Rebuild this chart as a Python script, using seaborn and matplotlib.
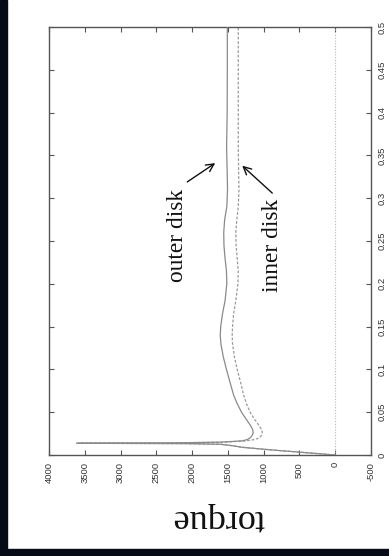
import matplotlib
matplotlib.use("Agg")
import matplotlib.pyplot as plt
from matplotlib.patches import Rectangle
import seaborn as sns
import pandas as pd

# time [s] and torque for the two disks
time = [0, 0.003, 0.006, 0.009, 0.011, 0.0125, 0.0133, 0.0137, 0.0141, 0.015,
        0.0165, 0.018, 0.02, 0.023, 0.026, 0.03, 0.035, 0.042, 0.05, 0.06,
        0.07, 0.084, 0.1, 0.115, 0.13, 0.14, 0.15, 0.165, 0.18, 0.2,
        0.215, 0.23, 0.245, 0.26, 0.275, 0.29, 0.31, 0.33, 0.36, 0.4,
        0.45, 0.5]
outer_torque = [0, 450, 900, 1300, 1450, 1600, 2100, 3590, 2300, 1600,
                1300, 1230, 1190, 1160, 1146, 1155, 1188, 1245, 1310, 1370,
                1420, 1467, 1520, 1565, 1598, 1607, 1600, 1575, 1540, 1515,
                1520, 1540, 1555, 1558, 1545, 1515, 1505, 1510, 1518, 1510,
                1508, 1508]
inner_torque = [0, 450, 900, 1300, 1450, 1600, 2100, 3630, 2300, 1550,
                1250, 1130, 1060, 1030, 1020, 1030, 1070, 1130, 1190, 1240,
                1280, 1320, 1370, 1410, 1435, 1440, 1435, 1420, 1390, 1360,
                1355, 1370, 1385, 1390, 1375, 1355, 1345, 1350, 1355, 1355,
                1355, 1355]

torque_ticks = [4000, 3500, 3000, 2500, 2000, 1500, 1000, 500, 0, -500]
torque_labels = ["4000", "3500", "3000", "2500", "2000", "1500", "1000", "500", "0", "-500"]
time_ticks = [0, 0.05, 0.1, 0.15, 0.2, 0.25, 0.3, 0.35, 0.4, 0.45, 0.5]
time_labels = ["0", "0.05", "0.1", "0.15", "0.2", "0.25", "0.3", "0.35", "0.4", "0.45", "0.5"]

df = pd.DataFrame({"time": time, "outer": outer_torque, "inner": inner_torque})

sns.set_theme(style="white")
plt.rcParams["font.family"] = ["Liberation Sans", "DejaVu Sans"]

W, H = 389, 556
fig = plt.figure(figsize=(W / 100, H / 100), dpi=100)
fig.patch.set_facecolor("white")
ax = fig.add_axes([49 / W, 1 - 455 / H, (371 - 49) / W, (455 - 27) / H])
ax.set_facecolor("white")

# zero-torque reference line
ax.axvline(0, color="#b8b8b8", lw=0.8, ls=(0, (1, 1.5)), zorder=1)

sns.lineplot(data=df, x="outer", y="time", sort=False, estimator=None,
             color="#8a8a8a", lw=0.9, ax=ax, zorder=3)
sns.lineplot(data=df, x="inner", y="time", sort=False, estimator=None,
             color="#9a9a9a", lw=0.9, ax=ax, zorder=2, linestyle=(0, (2.2, 1.4)))

ax.set_xlim(4000, -500)
ax.set_ylim(0, 0.5)

ax.set_xticks(torque_ticks)
ax.set_xticklabels(torque_labels, rotation=90, va="top", ha="center")
ax.set_yticks(time_ticks)
ax.set_yticklabels(time_labels, rotation=90, va="center", ha="left")
ax.yaxis.tick_right()
ax.tick_params(axis="both", which="both", direction="in", length=3.5, width=0.8,
               color="#555555", labelsize=6.8, labelcolor="#333333",
               top=True, bottom=True, left=True, right=True,
               labelleft=False, labelright=True, labeltop=False, labelbottom=True)
ax.tick_params(axis="x", pad=5)
ax.tick_params(axis="y", pad=5)

for s in ax.spines.values():
    s.set_color("#555555")
    s.set_linewidth(1.0)
    s.set_visible(True)

ax.set_xlabel("")
ax.set_ylabel("")

serif = ["Liberation Serif", "DejaVu Serif"]
fig.text(218 / W, 1 - 519 / H, "torque", rotation=180, ha="center", va="center",
         fontsize=26, family=serif, color="#111111")

# curve labels with arrows
ax.text(2208, 0.256, "outer disk", rotation=90, ha="center", va="center",
        fontsize=16.8, family=serif, color="#111111")
ax.text(880, 0.245, "inner disk", rotation=90, ha="center", va="center",
        fontsize=16.8, family=serif, color="#111111")
ax.annotate("", xy=(1677, 0.341), xytext=(2068, 0.319),
            arrowprops=dict(arrowstyle="->", color="#111111", lw=1.0,
                            mutation_scale=14, shrinkA=0, shrinkB=0))
ax.annotate("", xy=(1300, 0.338), xytext=(880, 0.306),
            arrowprops=dict(arrowstyle="->", color="#111111", lw=1.0,
                            mutation_scale=14, shrinkA=0, shrinkB=0))

# dark frame strips along the left and bottom edges
fig.add_artist(Rectangle((0, 0), 7 / W, 1, transform=fig.transFigure,
                         color="#070b18", zorder=10))
fig.add_artist(Rectangle((0, 0), 1, 7 / H, transform=fig.transFigure,
                         color="#070b18", zorder=10))

fig.savefig("out.png", dpi=100, facecolor="white")
